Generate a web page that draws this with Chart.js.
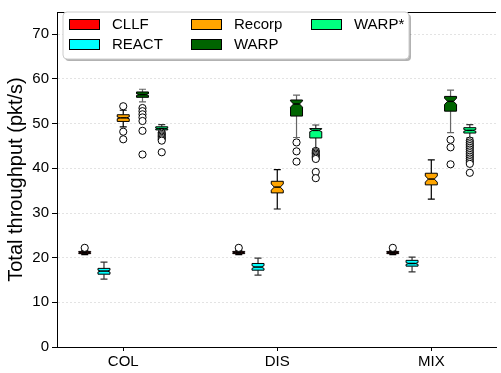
<!DOCTYPE html>
<html>
<head>
<meta charset="utf-8">
<script src="https://cdn.jsdelivr.net/npm/chart.js@4/dist/chart.umd.min.js"></script>
<style>
  html, body { margin: 0; padding: 0; background: #fff; }
  #wrap { width: 501px; height: 373px; }
</style>
</head>
<body>
<div id="wrap"><canvas id="chart"></canvas></div>
<script>
// categories and series
const categories = ['COL', 'DIS', 'MIX'];
const seriesNames = ['CLLF', 'REACT', 'Recorp', 'WARP', 'WARP*'];
const yTicks = [0, 10, 20, 30, 40, 50, 60, 70];

// per category: [low whisker, q1, median, q3, high whisker]
const cllfBox = [[20.7, 20.9, 21.1, 21.4, 21.6], [20.7, 20.9, 21.1, 21.4, 21.6], [20.7, 20.9, 21.1, 21.4, 21.6]];
const reactBox = [[15.2, 16.3, 17.0, 17.6, 19.0], [16.1, 17.2, 17.9, 18.7, 19.9], [16.8, 18.1, 18.7, 19.4, 20.1]];
const recorpBox = [[49.3, 50.5, 51.3, 52.0, 53.0], [30.9, 34.5, 35.8, 37.1, 39.7], [33.1, 36.3, 37.6, 38.9, 41.9]];
const warpBox = [[54.9, 55.9, 56.5, 57.1, 57.7], [46.9, 51.7, 54.4, 55.3, 56.4], [48.0, 52.8, 55.0, 56.1, 57.5]];
const warpStarBox = [[48.3, 48.6, 48.9, 49.3, 49.8], [44.4, 46.8, 48.5, 48.9, 49.7], [46.8, 47.9, 48.5, 49.1, 49.8]];

// notch limits: [low, high]
const cllfNotch = [[21.0, 21.2], [21.0, 21.2], [21.0, 21.2]];
const reactNotch = [[16.8, 17.2], [17.6, 18.2], [18.5, 18.9]];
const recorpNotch = [[51.1, 51.5], [35.1, 36.5], [36.9, 38.3]];
const warpNotch = [[56.3, 56.7], [53.7, 55.1], [54.3, 55.7]];
const warpStarNotch = [[48.8, 49.0], [48.2, 48.8], [48.3, 48.7]];

// fliers
const cllfOut = [[22.2], [22.2], [22.2]];
const reactOut = [[], [], []];
const recorpOut = [[53.9, 48.2, 46.5], [], []];
const warpOut = [[53.5, 52.8, 52.1, 51.4, 50.6, 48.4, 43.1], [45.8, 43.8, 41.5], [46.4, 44.7, 40.9]];
const warpStarOut = [
  [48.0, 47.7, 47.4, 47.1, 46.8, 46.5, 46.2, 43.6],
  [43.9, 43.6, 43.3, 43.0, 42.7, 42.4, 42.1, 39.2, 37.8],
  [46.2, 45.8, 45.4, 45.0, 44.6, 44.2, 43.8, 43.4, 43.0, 42.6, 42.2, 41.8, 41.4, 41.0, 39.0]
];

const boxes = [cllfBox, reactBox, recorpBox, warpBox, warpStarBox];
const notches = [cllfNotch, reactNotch, recorpNotch, warpNotch, warpStarNotch];
const outliers = [cllfOut, reactOut, recorpOut, warpOut, warpStarOut];

// styles
const fills = ['#ff0000', '#00ffff', '#ffa500', '#006400', '#00ff7f'];
const whiskerColors = ['#000', '#333', '#000', '#666', '#333'];
const offsets = [-0.25, -0.125, 0, 0.125, 0.25];
const FONT = "'Liberation Sans', Arial, sans-serif";

var datasets = [];
for (var s = 0; s < seriesNames.length; s++) {
  var pts = [];
  for (var c = 0; c < categories.length; c++) {
    outliers[s][c].forEach(function (v) { pts.push({ x: c + offsets[s], y: v }); });
  }
  datasets.push({
    label: seriesNames[s],
    data: pts,
    pointRadius: 3.6,
    pointBorderWidth: 1,
    pointBorderColor: '#000',
    pointBackgroundColor: '#fff',
    showLine: false
  });
}

var boxPlugin = {
  id: 'boxes',
  beforeDatasetsDraw: function (chart) {
    var ctx = chart.ctx, xs = chart.scales.x, ys = chart.scales.y;
    var w = 12, cap = 3.5;
    ctx.save();
    for (var s = 0; s < boxes.length; s++) {
      for (var c = 0; c < categories.length; c++) {
        var b = boxes[s][c], n = notches[s][c];
        var xc = xs.getPixelForValue(c + offsets[s]);
        var L = xc - w / 2, R = xc + w / 2, iL = xc - w / 4, iR = xc + w / 4;
        var yLo = ys.getPixelForValue(b[0]), yQ1 = ys.getPixelForValue(b[1]);
        var yMed = ys.getPixelForValue(b[2]), yQ3 = ys.getPixelForValue(b[3]);
        var yHi = ys.getPixelForValue(b[4]);
        var yN1 = ys.getPixelForValue(n[0]), yN2 = ys.getPixelForValue(n[1]);
        // whiskers
        ctx.strokeStyle = whiskerColors[s];
        ctx.lineWidth = 1.2;
        ctx.beginPath();
        ctx.moveTo(xc, yQ1); ctx.lineTo(xc, yLo);
        ctx.moveTo(xc, yQ3); ctx.lineTo(xc, yHi);
        ctx.moveTo(xc - cap, yLo); ctx.lineTo(xc + cap, yLo);
        ctx.moveTo(xc - cap, yHi); ctx.lineTo(xc + cap, yHi);
        ctx.stroke();
        // notched box
        ctx.beginPath();
        ctx.moveTo(L, yQ1);
        ctx.lineTo(L, yN1);
        ctx.lineTo(iL, yMed);
        ctx.lineTo(L, yN2);
        ctx.lineTo(L, yQ3);
        ctx.lineTo(R, yQ3);
        ctx.lineTo(R, yN2);
        ctx.lineTo(iR, yMed);
        ctx.lineTo(R, yN1);
        ctx.lineTo(R, yQ1);
        ctx.closePath();
        ctx.fillStyle = fills[s];
        ctx.fill();
        ctx.strokeStyle = '#000';
        ctx.lineWidth = 1;
        ctx.stroke();
        // median
        ctx.strokeStyle = '#000';
        ctx.lineWidth = 1.5;
        ctx.beginPath();
        ctx.moveTo(iL, yMed); ctx.lineTo(iR, yMed);
        ctx.stroke();
      }
    }
    ctx.restore();
  },
  afterDraw: function (chart) {
    var ctx = chart.ctx, a = chart.chartArea;
    ctx.save();
    // top spine
    ctx.strokeStyle = '#000';
    ctx.lineWidth = 1;
    ctx.beginPath();
    ctx.moveTo(a.left, a.top + 0.5); ctx.lineTo(a.right, a.top + 0.5);
    ctx.stroke();
    // legend frame with shadow
    function rr(x, y, w, h, r) {
      ctx.beginPath();
      ctx.moveTo(x + r, y);
      ctx.arcTo(x + w, y, x + w, y + h, r);
      ctx.arcTo(x + w, y + h, x, y + h, r);
      ctx.arcTo(x, y + h, x, y, r);
      ctx.arcTo(x, y, x + w, y, r);
      ctx.closePath();
    }
    rr(65, 14, 346, 47, 4);
    ctx.fillStyle = 'rgba(0,0,0,0.3)';
    ctx.fill();
    rr(63, 12, 346, 47, 4);
    ctx.fillStyle = '#fff';
    ctx.fill();
    ctx.strokeStyle = '#ccc';
    ctx.stroke();
    // legend entries, column-major in 3 columns
    var colX = [69, 191, 311], rowY = [24, 44];
    ctx.font = '15px ' + FONT;
    ctx.textBaseline = 'middle';
    ctx.textAlign = 'left';
    for (var i = 0; i < seriesNames.length; i++) {
      var col = Math.floor(i / 2), row = i % 2;
      var x = colX[col], y = rowY[row];
      ctx.fillStyle = fills[i];
      ctx.fillRect(x + 0.5, y - 4.5, 30, 10);
      ctx.strokeStyle = '#000';
      ctx.lineWidth = 1;
      ctx.strokeRect(x + 0.5, y - 4.5, 30, 10);
      ctx.fillStyle = '#000';
      ctx.fillText(seriesNames[i], x + 43, y + 1);
    }
    ctx.restore();
  }
};

var chart = new Chart(document.getElementById('chart'), {
  type: 'scatter',
  data: { datasets: datasets },
  plugins: [boxPlugin],
  options: {
    responsive: true,
    maintainAspectRatio: false,
    animation: false,
    layout: { padding: { top: 4, right: 0, left: 0, bottom: 0 } },
    plugins: { legend: { display: false }, tooltip: { enabled: false } },
    scales: {
      x: {
        type: 'linear',
        min: -0.43,
        max: 2.42,
        afterBuildTicks: function (scale) {
          scale.ticks = categories.map(function (c, i) { return { value: i }; });
        },
        afterFit: function (scale) { scale.height = 26; },
        ticks: {
          autoSkip: false,
          maxRotation: 0,
          padding: 2,
          color: '#000',
          font: { family: FONT, size: 15 },
          callback: function (v) { return categories[v]; }
        },
        grid: { drawOnChartArea: false, tickColor: '#000', tickLength: 4 },
        border: { color: '#000', width: 1 }
      },
      y: {
        min: 0,
        max: 75,
        afterBuildTicks: function (scale) {
          scale.ticks = yTicks.map(function (v) { return { value: v }; });
        },
        afterFit: function (scale) { scale.width = 57; },
        ticks: {
          padding: 3,
          color: '#000',
          font: { family: FONT, size: 15 }
        },
        grid: { color: '#e3e3e3', tickColor: '#000', tickLength: 5 },
        border: { color: '#000', width: 1, dash: [2, 2] },
        title: {
          display: true,
          text: 'Total throughput (pkt/s)',
          color: '#000',
          font: { family: FONT, size: 20 },
          padding: { top: 4, bottom: 0 }
        }
      }
    }
  }
});
</script>
</body>
</html>
